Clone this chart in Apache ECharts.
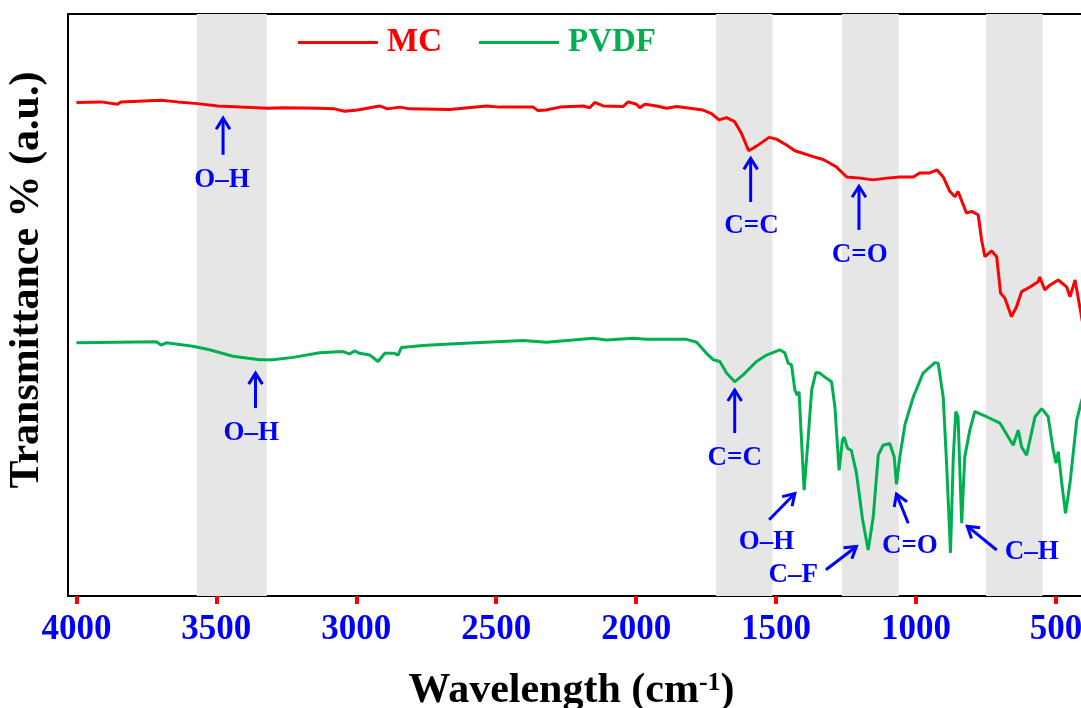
<!DOCTYPE html>
<html>
<head>
<meta charset="utf-8">
<script src="https://cdn.jsdelivr.net/npm/echarts@6/dist/echarts.min.js"></script>
<style>
  html, body { margin: 0; padding: 0; background: #fff; }
  #chart { width: 1081px; height: 708px; }
</style>
</head>
<body>
<div id="chart"></div>
<script>
// FTIR spectra: [wavenumber (cm-1), transmittance (a.u.)]
const mcSpectrum = [
  [4000,84.8],[3912,84.9],[3853,84.5],[3841,84.9],[3698,85.2],[3638,84.9],[3567,84.6],[3495,84.2],
  [3413,84.0],[3316,83.8],[3257,83.9],[3138,83.8],[3078,83.7],[3042,83.3],[2995,83.5],[2917,84.2],
  [2888,83.7],[2845,84.0],[2809,83.7],[2666,83.6],[2535,84.2],[2487,84.0],[2368,84.0],[2351,83.4],
  [2321,83.5],[2273,84.0],[2190,84.2],[2166,83.9],[2148,84.8],[2118,84.2],[2047,84.1],[2029,84.9],
  [1999,84.5],[1987,83.9],[1969,84.5],[1927,84.2],[1892,83.8],[1856,84.1],[1808,83.8],[1761,83.5],
  [1731,82.9],[1725,82.6],[1704,81.8],[1677,82.2],[1648,81.5],[1624,79.5],[1598,76.5],[1570,77.3],
  [1525,78.8],[1499,78.5],[1463,77.5],[1433,76.5],[1368,75.5],[1332,75.0],[1284,73.7],[1248,72.0],
  [1200,71.8],[1153,71.5],[1105,71.8],[1058,72.0],[1010,72.0],[986,72.7],[951,72.7],[925,73.2],
  [903,72.0],[879,69.5],[861,68.6],[850,69.5],[820,65.8],[802,66.1],[778,65.5],[766,61.2],
  [754,58.3],[730,59.3],[712,58.3],[698,52.0],[683,51.2],[659,48.0],[641,49.7],[623,52.3],
  [593,53.1],[564,54.0],[558,54.8],[540,52.6],[522,53.4],[492,54.3],[462,53.1],[450,51.4],
  [432,54.3],[411,48.6],[400,45.5]
];

const pvdfSpectrum = [
  [4000,43.5],[3714,43.7],[3697,43.1],[3679,43.5],[3584,42.9],[3524,42.3],[3441,41.2],[3345,40.6],
  [3298,40.6],[3226,41.0],[3131,41.8],[3048,42.0],[3024,41.6],[3006,42.1],[2988,41.7],[2952,41.4],
  [2922,40.3],[2898,41.7],[2863,41.7],[2851,41.4],[2839,42.7],[2750,43.1],[2630,43.4],[2404,43.9],
  [2321,43.6],[2225,44.0],[2154,44.3],[2106,44.0],[2011,44.3],[1963,44.1],[1820,44.1],[1784,43.6],
  [1749,41.7],[1725,40.6],[1701,40.3],[1677,38.3],[1648,36.8],[1618,38.0],[1570,40.3],[1534,41.4],
  [1487,42.3],[1469,41.8],[1457,40.0],[1445,39.7],[1433,35.4],[1425,34.5],[1418,35.1],[1413,30.2],
  [1400,18.2],[1386,26.8],[1373,35.4],[1358,38.4],[1344,38.3],[1320,37.4],[1302,36.8],[1290,32.5],
  [1275,21.6],[1263,26.8],[1257,27.3],[1245,25.4],[1231,25.0],[1213,21.1],[1191,13.1],[1171,7.9],
  [1153,13.6],[1135,24.2],[1118,25.9],[1094,26.2],[1078,23.9],[1070,19.2],[1058,23.9],[1040,29.4],
  [1010,34.2],[975,38.3],[933,40.1],[921,40.0],[903,34.2],[891,22.8],[877,7.4],[867,23.9],
  [858,31.7],[850,30.8],[837,12.5],[826,23.9],[808,28.5],[790,31.7],[748,30.8],[700,29.7],
  [653,25.9],[635,28.5],[623,25.6],[605,24.2],[575,30.8],[551,32.2],[528,30.8],[510,25.1],
  [500,22.8],[492,24.8],[480,19.6],[466,14.2],[450,19.4],[426,30.2],[411,33.1],[400,35.0]
];

// highlighted absorption regions [from, to] in cm-1
const shadedBands = [[3570, 3320], [1715, 1513], [1265, 1062], [750, 548]];

const xTickValues = [4000, 3500, 3000, 2500, 2000, 1500, 1000, 500];

// peak assignments: arrow tail, arrow head and label anchor in data units
const peakLabels = ['O–H', 'C=C', 'C=O', 'O–H', 'C=C', 'O–H', 'C–F', 'C=O', 'C–H'];
const arrowTails = [[3476,75.8],[1591,67.7],[1204,62.9],[3360,32.3],[1648,28.0],[1525,13.1],[1322,4.5],[1028,12.5],[712,7.9]];
const arrowHeads = [[3476,82.1],[1591,75.2],[1204,70.4],[3360,38.3],[1648,35.4],[1433,17.6],[1213,8.5],[1070,17.5],[817,12.0]];
const labelAnchors = [[3480,71.4],[1588,63.5],[1201,58.6],[3375,28.0],[1648,23.7],[1534,9.3],[1439,3.6],[1022,8.5],[587,7.6]];

const SERIF = '"Liberation Serif", "Times New Roman", serif';
const RED = '#ff0000';
const GREEN = '#00b050';
const BLUE = '#0000ff';

const chart = echarts.init(document.getElementById('chart'), null, { renderer: 'canvas' });

const frameAxis = {
  type: 'value', inverse: true, min: 400, max: 4030,
  axisLine: { show: true, onZero: false, lineStyle: { color: '#000', width: 2 } },
  axisTick: { show: false }, axisLabel: { show: false }, splitLine: { show: false }
};

chart.setOption({
  animation: false,
  backgroundColor: '#fff',
  grid: { left: 68, top: 14, right: -3, bottom: 112, containLabel: false, outerBoundsMode: 'none' },
  legend: {
    left: 298, top: 26, padding: 0, itemGap: 37, itemWidth: 80, itemHeight: 3,
    icon: 'rect',
    selectedMode: false,
    textStyle: { fontSize: 33, fontWeight: 'bold', fontFamily: SERIF, padding: [0, 0, 0, 4] },
    data: [
      { name: 'MC', textStyle: { color: RED } },
      { name: 'PVDF', textStyle: { color: GREEN } }
    ]
  },
  xAxis: [
    {
      type: 'value', inverse: true, min: 400, max: 4030, position: 'bottom',
      axisLine: { show: true, onZero: false, lineStyle: { color: '#000', width: 2 } },
      axisTick: { show: true, inside: false, length: 8, customValues: xTickValues,
                  lineStyle: { color: RED, width: 4 } },
      axisLabel: { customValues: xTickValues, color: BLUE, fontSize: 35, fontWeight: 'bold',
                   fontFamily: SERIF, margin: 16, formatter: v => String(v) },
      splitLine: { show: false }
    },
    Object.assign({}, frameAxis, { position: 'top' })
  ],
  yAxis: [
    {
      type: 'value', min: 0, max: 100, position: 'left',
      axisLine: { show: true, onZero: false, lineStyle: { color: '#000', width: 2 } },
      axisTick: { show: false }, axisLabel: { show: false }, splitLine: { show: false }
    },
    {
      type: 'value', min: 0, max: 100, position: 'right',
      axisLine: { show: true, onZero: false, lineStyle: { color: '#000', width: 2 } },
      axisTick: { show: false }, axisLabel: { show: false }, splitLine: { show: false }
    }
  ],
  series: [
    {
      name: 'bands', type: 'line', data: [], z: 1, silent: true,
      markArea: {
        silent: true,
        itemStyle: { color: '#e6e6e6' },
        data: shadedBands.map(b => [{ xAxis: b[0] }, { xAxis: b[1] }])
      }
    },
    {
      name: 'MC', type: 'line', data: mcSpectrum, symbol: 'none', z: 3,
      lineStyle: { color: RED, width: 3 }, itemStyle: { color: RED }
    },
    {
      name: 'PVDF', type: 'line', data: pvdfSpectrum, symbol: 'none', z: 3,
      lineStyle: { color: GREEN, width: 3 }, itemStyle: { color: GREEN }
    }
  ]
});

// axis titles and peak annotations
function toPx(p) {
  return chart.convertToPixel({ xAxisIndex: 0, yAxisIndex: 0 }, p);
}

const graphics = [
  {
    type: 'text', x: 27.5, y: 280, rotation: Math.PI / 2, z: 10,
    style: { text: 'Transmittance % (a.u.)', font: 'bold 42px ' + SERIF, fill: '#000',
             align: 'center', verticalAlign: 'middle' }
  },
  {
    type: 'text', x: 571.5, y: 691, z: 10,
    style: {
      text: '{a|Wavelength (cm}{s|-1}{a|)}',
      align: 'center', verticalAlign: 'middle',
      rich: {
        a: { font: 'bold 42px ' + SERIF, fill: '#000', lineHeight: 42 },
        s: { font: 'bold 26px ' + SERIF, fill: '#000', lineHeight: 16, verticalAlign: 'top' }
      }
    }
  }
];

const headLen = 13, headAngle = 32 * Math.PI / 180;
peakLabels.forEach((txt, i) => {
  const t = toPx(arrowTails[i]);
  const h = toPx(arrowHeads[i]);
  const l = toPx(labelAnchors[i]);
  const dx = h[0] - t[0], dy = h[1] - t[1];
  const len = Math.hypot(dx, dy);
  const ux = dx / len, uy = dy / len;
  const arm = (a) => {
    const c = Math.cos(a), s = Math.sin(a);
    const rx = ux * c - uy * s, ry = ux * s + uy * c;
    return [h[0] - rx * headLen, h[1] - ry * headLen];
  };
  graphics.push({
    type: 'polyline', z: 10, silent: true,
    shape: { points: [t, h] },
    style: { stroke: BLUE, lineWidth: 3, fill: null }
  });
  graphics.push({
    type: 'polyline', z: 10, silent: true,
    shape: { points: [arm(headAngle), h, arm(-headAngle)] },
    style: { stroke: BLUE, lineWidth: 3, fill: null, lineJoin: 'miter' }
  });
  graphics.push({
    type: 'text', z: 10, silent: true, x: l[0], y: l[1],
    style: { text: txt, font: 'bold 27px ' + SERIF, fill: BLUE, align: 'center', verticalAlign: 'middle' }
  });
});

chart.setOption({ graphic: graphics });
</script>
</body>
</html>
